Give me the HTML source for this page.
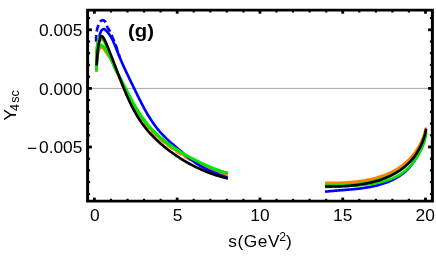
<!DOCTYPE html>
<html><head><meta charset="utf-8"><title>plot</title>
<style>html,body{margin:0;padding:0;background:#fff}svg{display:block;will-change:transform}text{font-family:"Liberation Sans",sans-serif;fill:#000}</style></head><body>
<svg width="436" height="262" viewBox="0 0 436 262">
<rect width="436" height="262" fill="#fff"/>
<line x1="89.1" y1="88.4" x2="430.9" y2="88.4" stroke="#9c9c9c" stroke-width="0.9"/>
<path d="M96.50 72.00 L96.47 70.66 L96.47 69.31 L96.52 67.97 L96.59 66.63 L96.68 65.28 L96.79 63.94 L96.91 62.61 L97.03 61.27 L97.15 59.93 L97.27 58.59 L97.39 57.25 L97.53 55.91 L97.72 54.58 L97.96 53.26 L98.29 51.96 L98.72 50.68 L99.25 49.45 L99.93 48.29 L100.88 47.35 L102.14 47.19 L103.16 48.06 L103.97 49.13 L104.66 50.28 L105.32 51.46 L106.03 52.60 L106.80 53.70 L107.60 54.78 L108.39 55.87 L109.15 56.98 L109.88 58.11 L110.59 59.25 L111.27 60.41 L111.93 61.58 L112.57 62.76 L113.19 63.96 L113.79 65.16 L114.38 66.37 L114.95 67.58 L115.51 68.81 L116.06 70.03 L116.60 71.26 L117.14 72.50 L117.67 73.73 L118.20 74.97 L118.73 76.20 L119.26 77.44 L119.80 78.67 L120.33 79.90 L120.87 81.13 L121.42 82.36 L121.97 83.59 L122.52 84.82 L123.07 86.04 L123.63 87.26 L124.20 88.48 L124.77 89.70 L125.35 90.91 L125.93 92.13 L126.51 93.34 L127.11 94.54 L127.71 95.74 L128.31 96.94" fill="none" stroke="#ff8000" stroke-width="2.65" stroke-linejoin="round"/>
<path d="M128.31 96.94 L128.93 98.14 L129.55 99.33 L130.18 100.52 L130.81 101.71 L131.46 102.89 L132.11 104.06 L132.77 105.23 L133.44 106.40 L134.12 107.56 L134.80 108.71 L135.50 109.86 L136.21 111.01 L136.93 112.14 L137.65 113.27 L138.39 114.40 L139.14 115.51 L139.90 116.62 L140.67 117.72 L141.46 118.82 L142.25 119.90 L143.06 120.98 L143.88 122.04 L144.71 123.10 L145.55 124.15 L146.41 125.18 L147.27 126.21 L148.15 127.23 L149.05 128.23 L149.95 129.23 L150.86 130.21 L151.79 131.19 L152.72 132.15 L153.67 133.11 L154.63 134.05 L155.59 134.99 L156.57 135.91 L157.55 136.83 L158.55 137.73 L159.55 138.63 L160.56 139.51 L161.58 140.39 L162.61 141.26 L163.65 142.11 L164.69 142.96 L165.74 143.80 L166.80 144.63 L167.86 145.45 L168.94 146.26 L170.02 147.06 L171.10 147.85 L172.19 148.64 L173.29 149.41 L174.40 150.18 L175.51 150.93 L176.63 151.68 L177.75 152.42 L178.88 153.15 L180.01 153.87 L181.15 154.59 L182.30 155.29 L183.45 155.99 L184.60 156.67 L185.76 157.35 L186.93 158.02 L188.10 158.68 L189.28 159.33 L190.46 159.97 L191.65 160.60 L192.84 161.22 L194.03 161.84 L195.23 162.44 L196.44 163.04 L197.65 163.63 L198.86 164.21 L200.08 164.77 L201.30 165.34 L202.53 165.89 L203.76 166.43 L204.99 166.96 L206.23 167.49 L207.47 168.00 L208.72 168.51 L209.97 169.01 L211.22 169.49 L212.48 169.97 L213.73 170.44 L215.00 170.90 L216.26 171.35 L217.53 171.80 L218.81 172.23 L220.08 172.65 L221.36 173.07 L222.64 173.47 L223.93 173.87 L225.21 174.26 L226.50 174.63 L227.80 175.00" fill="none" stroke="#ff8000" stroke-width="2.65" stroke-linejoin="round" stroke-dasharray="6.8 3.6"/>
<path d="M96.50 72.00 L96.53 70.57 L96.56 69.14 L96.57 67.70 L96.57 66.27 L96.57 64.84 L96.57 63.41 L96.56 61.97 L96.55 60.54 L96.54 59.11 L96.54 57.68 L96.54 56.24 L96.54 54.81 L96.56 53.38 L96.59 51.95 L96.66 50.52 L96.79 49.09 L97.00 47.67 L97.30 46.27 L97.71 44.90 L98.24 43.57 L98.89 42.30 L99.67 41.09 L100.60 40.01 L101.92 39.56 L103.22 40.11 L104.14 41.20 L104.76 42.49 L105.33 43.80 L105.96 45.09 L106.61 46.37 L107.21 47.67 L107.78 48.98 L108.31 50.31 L108.82 51.65 L109.30 53.00 L109.78 54.35 L110.25 55.70 L110.72 57.06 L111.20 58.41 L111.69 59.75 L112.21 61.09 L112.74 62.42 L113.30 63.74 L113.87 65.05 L114.45 66.36 L115.04 67.67 L115.63 68.97 L116.23 70.27 L116.82 71.57 L117.42 72.88 L118.01 74.18 L118.61 75.48 L119.21 76.78 L119.81 78.08 L120.41 79.38 L121.02 80.68 L121.62 81.98 L122.23 83.28 L122.85 84.57 L123.46 85.86 L124.08 87.15 L124.71 88.44 L125.34 89.73 L125.98 91.01 L126.62 92.29 L127.26 93.57 L127.91 94.85 L128.57 96.12 L129.24 97.39 L129.91 98.65 L130.59 99.91 L131.27 101.17 L131.97 102.42 L132.67 103.67 L133.38 104.92 L134.10 106.15 L134.83 107.39 L135.57 108.61 L136.32 109.84 L137.08 111.05 L137.85 112.26 L138.63 113.46 L139.42 114.66 L140.22 115.84 L141.03 117.02 L141.86 118.19 L142.69 119.35 L143.54 120.51 L144.40 121.65 L145.28 122.79 L146.16 123.92 L147.06 125.03 L147.97 126.14 L148.89 127.23 L149.83 128.32 L150.78 129.39 L151.74 130.45 L152.71 131.50 L153.70 132.54 L154.70 133.56 L155.71 134.58 L156.74 135.58 L157.78 136.56 L158.83 137.53 L159.90 138.49 L160.98 139.43 L162.07 140.36 L163.17 141.28 L164.28 142.18 L165.41 143.06 L166.54 143.94 L167.69 144.80 L168.84 145.64 L170.01 146.48 L171.18 147.30 L172.36 148.11 L173.55 148.91 L174.75 149.70 L175.95 150.47 L177.16 151.24 L178.38 151.99 L179.60 152.74 L180.83 153.48 L182.06 154.20 L183.30 154.92 L184.55 155.63 L185.80 156.33 L187.05 157.03 L188.31 157.71 L189.57 158.39 L190.83 159.07 L192.10 159.73 L193.37 160.39 L194.65 161.05 L195.92 161.69 L197.20 162.34 L198.49 162.98 L199.77 163.61 L201.06 164.24 L202.34 164.87 L203.64 165.49 L204.93 166.10 L206.23 166.71 L207.53 167.30 L208.84 167.89 L210.15 168.46 L211.47 169.02 L212.79 169.57 L214.12 170.10 L215.46 170.61 L216.81 171.10 L218.16 171.58 L219.51 172.04 L220.88 172.47 L222.25 172.89 L223.63 173.28 L225.01 173.64 L226.40 173.98 L227.80 174.30" fill="none" stroke="#ff8000" stroke-width="2.65" stroke-linejoin="round"/>
<path d="M96.16 41.80 L96.14 41.39 L96.13 40.98 L96.12 40.57 L96.11 40.16 L96.10 39.75 L96.10 39.35 L96.10 38.94 L96.10 38.53 L96.10 38.12 L96.11 37.71 L96.12 37.30 L96.14 36.89 L96.15 36.48 L96.17 36.07 L96.20 35.66 L96.23 35.25 L96.26 34.84 L96.29 34.44 L96.33 34.03 L96.37 33.62 L96.42 33.21 L96.47 32.81 L96.53 32.40 L96.59 32.00 L96.66 31.59 L96.73 31.19 L96.80 30.79 L96.88 30.39 L96.97 29.98 L97.06 29.59 L97.15 29.19 L97.25 28.79 L97.36 28.39 L97.47 28.00 L97.59 27.61 L97.71 27.22 L97.84 26.83 L97.97 26.44 L98.11 26.06 L98.25 25.67 L98.40 25.29 L98.56 24.91 L98.72 24.54 L98.89 24.16 L99.06 23.79 L99.24 23.42 L99.43 23.06 L99.62 22.70 L99.81 22.34 L100.02 21.98 L100.24 21.64 L100.49 21.31 L100.77 21.01 L101.08 20.75 L101.43 20.53 L101.81 20.38 L102.20 20.28 L102.61 20.25 L103.02 20.29 L103.42 20.39 L103.80 20.53 L104.16 20.72 L104.50 20.96 L104.81 21.22 L105.09 21.52 L105.34 21.85 L105.56 22.19 L105.76 22.55 L105.93 22.92 L106.07 23.30 L106.20 23.69 L106.32 24.09 L106.43 24.48 L106.54 24.87 L106.66 25.27 L106.79 25.65 L106.93 26.04 L107.09 26.41 L107.26 26.79 L107.45 27.15 L107.64 27.51 L107.84 27.87 L108.05 28.22 L108.26 28.57 L108.48 28.92 L108.69 29.27 L108.91 29.62 L109.13 29.96 L109.35 30.31 L109.56 30.66 L109.77 31.01 L109.97 31.37 L110.16 31.73 L110.35 32.09 L110.53 32.46 L110.71 32.83 L110.88 33.20 L111.05 33.58 L111.21 33.95 L111.36 34.33 L111.52 34.71 L111.67 35.09 L111.82 35.47 L111.97 35.85 L112.12 36.24 L112.26 36.62 L112.41 37.00 L112.56 37.38 L112.71 37.76 L112.87 38.14 L113.02 38.52 L113.18 38.90 L113.34 39.28 L113.50 39.65 L113.66 40.03 L113.82 40.41 L113.98 40.78 L114.14 41.16 L114.30 41.54 L114.46 41.91 L114.62 42.29 L114.77 42.67 L114.92 43.05 L115.07 43.44 L115.22 43.82 L115.36 44.20 L115.51 44.58 L115.65 44.97 L115.79 45.35 L115.93 45.74 L116.06 46.12 L116.20 46.51 L116.34 46.90 L116.47 47.28 L116.60 47.67 L116.73 48.06 L116.87 48.45 L117.00 48.84 L117.13 49.22 L117.25 49.61 L117.38 50.00 L117.51 50.39 L117.64 50.78 L117.76 51.17 L117.89 51.56 L118.02 51.95 L118.15 52.34 L118.27 52.73 L118.40 53.12 L118.53 53.50 L118.66 53.89 L118.78 54.28 L118.91 54.67 L119.04 55.06 L119.17 55.45 L119.30 55.84 L119.44 56.22 L119.57 56.61 L119.70 57.00" fill="none" stroke="#0000ff" stroke-width="2.65" stroke-linejoin="round" stroke-dasharray="6.8 3.6"/>
<path d="M96.65 62.00 L96.87 60.53 L97.02 59.06 L97.10 57.58 L97.14 56.09 L97.15 54.61 L97.16 53.12 L97.18 51.64 L97.22 50.16 L97.32 48.68 L97.47 47.20 L97.69 45.73 L97.96 44.27 L98.26 42.82 L98.57 41.37 L98.87 39.92 L99.15 38.46 L99.40 37.00 L99.65 35.53 L99.96 34.08 L100.41 32.67 L101.04 31.33 L101.88 30.11 L102.97 29.11 L104.38 29.11 L105.53 30.04 L106.58 31.09 L107.57 32.19 L108.51 33.34 L109.39 34.53 L110.22 35.77 L110.99 37.04 L111.72 38.33 L112.40 39.64 L113.05 40.98 L113.68 42.33 L114.28 43.68 L114.85 45.05 L115.41 46.42 L115.96 47.80 L116.50 49.18 L117.04 50.57 L117.57 51.95 L118.11 53.34 L118.66 54.72 L119.21 56.09 L119.78 57.46 L120.35 58.83 L120.93 60.20 L121.51 61.56 L122.11 62.92 L122.71 64.28 L123.31 65.64 L123.92 66.99 L124.54 68.34 L125.16 69.68 L125.79 71.03 L126.42 72.37 L127.06 73.71 L127.69 75.05 L128.34 76.39 L128.98 77.73 L129.62 79.06 L130.27 80.40 L130.92 81.73 L131.57 83.07 L132.22 84.40 L132.87 85.74 L133.52 87.07 L134.17 88.41 L134.81 89.74 L135.46 91.08 L136.11 92.41 L136.76 93.75 L137.41 95.08 L138.07 96.41 L138.72 97.74 L139.38 99.07 L140.05 100.40 L140.72 101.72 L141.39 103.04 L142.07 104.36 L142.76 105.68 L143.45 106.99 L144.16 108.30 L144.87 109.60 L145.59 110.89 L146.32 112.19 L147.06 113.47 L147.81 114.75 L148.58 116.02 L149.35 117.29 L150.14 118.54 L150.95 119.79 L151.76 121.03 L152.59 122.26 L153.44 123.48 L154.30 124.69 L155.18 125.88 L156.08 127.07 L156.99 128.24 L157.92 129.39 L158.87 130.53 L159.83 131.66 L160.82 132.77 L161.82 133.86 L162.84 134.94 L163.87 136.01 L164.92 137.06 L165.98 138.10 L167.06 139.12 L168.14 140.14 L169.23 141.14 L170.33 142.14 L171.44 143.12 L172.55 144.11 L173.67 145.08 L174.79 146.05 L175.92 147.02 L177.05 147.98 L178.18 148.94 L179.31 149.90 L180.44 150.86 L181.58 151.82 L182.71 152.78 L183.84 153.73 L184.98 154.68 L186.13 155.63 L187.27 156.57 L188.43 157.50 L189.59 158.42 L190.76 159.33 L191.95 160.23 L193.14 161.11 L194.34 161.98 L195.56 162.83 L196.79 163.66 L198.03 164.47 L199.29 165.26 L200.56 166.02 L201.85 166.76 L203.15 167.47 L204.46 168.16 L205.79 168.83 L207.12 169.48 L208.47 170.11 L209.82 170.72 L211.18 171.31 L212.55 171.90 L213.92 172.46 L215.29 173.02 L216.67 173.56 L218.06 174.10 L219.45 174.62 L220.83 175.14 L222.23 175.66 L223.62 176.17 L225.01 176.68 L226.41 177.19 L227.80 177.70" fill="none" stroke="#0000ff" stroke-width="2.65" stroke-linejoin="round"/>
<path d="M96.55 70.40 L96.56 69.05 L96.61 67.71 L96.68 66.36 L96.78 65.02 L96.89 63.67 L97.02 62.33 L97.15 60.99 L97.29 59.65 L97.42 58.31 L97.54 56.97 L97.66 55.62 L97.78 54.28 L97.92 52.94 L98.10 51.61 L98.35 50.28 L98.68 48.97 L99.10 47.69 L99.65 46.47 L100.48 45.41 L101.68 44.94 L102.72 45.77 L103.62 46.78 L104.46 47.83 L105.25 48.92 L105.99 50.05 L106.69 51.20 L107.36 52.37 L108.01 53.55 L108.65 54.74 L109.28 55.93 L109.90 57.13 L110.51 58.33 L111.12 59.53 L111.72 60.74 L112.31 61.95 L112.90 63.16 L113.48 64.37 L114.06 65.59 L114.64 66.81 L115.21 68.03 L115.79 69.25 L116.36 70.47 L116.93 71.69 L117.51 72.91 L118.08 74.13 L118.65 75.35 L119.23 76.56 L119.81 77.78 L120.40 78.99 L120.98 80.21 L121.57 81.42 L122.17 82.63 L122.76 83.84 L123.37 85.04 L123.97 86.25 L124.58 87.45 L125.20 88.65 L125.81 89.84 L126.44 91.04 L127.07 92.23 L127.70 93.42 L128.34 94.61 L128.99 95.79 L129.64 96.97 L130.30 98.15 L130.96 99.32 L131.63 100.49 L132.30 101.66 L132.99 102.82 L133.68 103.98 L134.37 105.13 L135.08 106.28 L135.79 107.42 L136.51 108.56 L137.23 109.70 L137.97 110.83 L138.71 111.95 L139.46 113.07 L140.22 114.19 L140.99 115.29 L141.76 116.39 L142.55 117.49 L143.34 118.58 L144.15 119.66 L144.96 120.74 L145.78 121.80 L146.61 122.86 L147.46 123.91 L148.31 124.96 L149.17 125.99 L150.04 127.02 L150.93 128.04 L151.82 129.05 L152.72 130.05 L153.64 131.04 L154.56 132.02 L155.50 132.99 L156.44 133.95 L157.40 134.90 L158.37 135.83 L159.35 136.76 L160.34 137.67 L161.34 138.58 L162.36 139.46 L163.38 140.34 L164.41 141.20 L165.46 142.06 L166.52 142.89 L167.58 143.71 L168.66 144.52 L169.75 145.32 L170.85 146.10 L171.96 146.86 L173.08 147.62 L174.20 148.36 L175.34 149.08 L176.48 149.80 L177.63 150.50 L178.78 151.19 L179.95 151.88 L181.11 152.55 L182.29 153.21 L183.46 153.87 L184.65 154.52 L185.83 155.16 L187.02 155.79 L188.21 156.42 L189.41 157.04 L190.61 157.66 L191.81 158.27 L193.01 158.88 L194.22 159.48 L195.42 160.08 L196.63 160.68 L197.84 161.28 L199.05 161.88 L200.25 162.47 L201.46 163.07 L202.67 163.66 L203.88 164.26 L205.10 164.84 L206.31 165.43 L207.53 166.00 L208.75 166.57 L209.98 167.13 L211.21 167.68 L212.45 168.21 L213.69 168.74 L214.94 169.24 L216.19 169.73 L217.45 170.20 L218.72 170.66 L220.00 171.09 L221.28 171.50 L222.57 171.89 L223.87 172.25 L225.18 172.59 L226.49 172.91 L227.80 173.20" fill="none" stroke="#00e600" stroke-width="2.65" stroke-linejoin="round"/>
<path d="M96.55 70.40 L96.54 68.95 L96.54 67.51 L96.55 66.06 L96.57 64.62 L96.59 63.17 L96.62 61.73 L96.65 60.28 L96.69 58.84 L96.72 57.39 L96.75 55.95 L96.77 54.50 L96.79 53.06 L96.81 51.61 L96.82 50.16 L96.85 48.72 L96.91 47.27 L97.02 45.83 L97.22 44.40 L97.51 42.99 L97.91 41.60 L98.40 40.24 L98.89 38.88 L99.40 37.53 L100.65 36.97 L102.00 37.43 L102.97 38.49 L103.64 39.77 L104.24 41.08 L104.84 42.40 L105.44 43.72 L106.03 45.04 L106.61 46.36 L107.18 47.69 L107.73 49.03 L108.26 50.37 L108.78 51.72 L109.27 53.08 L109.75 54.44 L110.22 55.81 L110.69 57.18 L111.16 58.54 L111.62 59.91 L112.10 61.28 L112.59 62.64 L113.09 63.99 L113.62 65.34 L114.16 66.68 L114.74 68.00 L115.35 69.31 L116.00 70.60 L116.69 71.88 L117.40 73.13 L118.13 74.39 L118.86 75.63 L119.58 76.88 L120.29 78.14 L121.00 79.40 L121.69 80.67 L122.38 81.94 L123.06 83.22 L123.74 84.50 L124.41 85.78 L125.07 87.06 L125.74 88.34 L126.40 89.63 L127.06 90.92 L127.71 92.20 L128.37 93.49 L129.03 94.78 L129.69 96.06 L130.36 97.35 L131.02 98.63 L131.69 99.91 L132.37 101.19 L133.05 102.47 L133.73 103.74 L134.43 105.01 L135.13 106.27 L135.84 107.53 L136.56 108.78 L137.30 110.03 L138.04 111.27 L138.79 112.50 L139.56 113.73 L140.34 114.94 L141.14 116.15 L141.95 117.35 L142.77 118.53 L143.61 119.71 L144.47 120.87 L145.35 122.02 L146.25 123.15 L147.16 124.27 L148.10 125.38 L149.05 126.46 L150.02 127.53 L151.01 128.59 L152.01 129.63 L153.03 130.66 L154.06 131.67 L155.11 132.66 L156.17 133.65 L157.24 134.61 L158.33 135.57 L159.42 136.51 L160.53 137.44 L161.65 138.36 L162.77 139.27 L163.91 140.16 L165.05 141.05 L166.20 141.92 L167.36 142.79 L168.53 143.64 L169.70 144.49 L170.87 145.33 L172.06 146.16 L173.24 146.99 L174.44 147.80 L175.64 148.61 L176.84 149.41 L178.05 150.20 L179.27 150.98 L180.49 151.75 L181.72 152.52 L182.95 153.27 L184.19 154.02 L185.43 154.76 L186.68 155.49 L187.93 156.20 L189.19 156.91 L190.46 157.62 L191.73 158.31 L193.00 158.99 L194.28 159.66 L195.57 160.32 L196.86 160.97 L198.15 161.62 L199.45 162.25 L200.76 162.87 L202.07 163.48 L203.38 164.08 L204.70 164.67 L206.03 165.25 L207.35 165.82 L208.69 166.38 L210.03 166.93 L211.37 167.46 L212.71 167.99 L214.07 168.50 L215.42 169.00 L216.78 169.50 L218.14 169.98 L219.51 170.44 L220.88 170.90 L222.26 171.34 L223.64 171.78 L225.02 172.20 L226.41 172.60 L227.80 173.00" fill="none" stroke="#00e600" stroke-width="2.65" stroke-linejoin="round"/>
<path d="M96.55 65.50 L96.67 64.05 L96.78 62.60 L96.88 61.15 L96.98 59.70 L97.08 58.25 L97.18 56.80 L97.29 55.35 L97.41 53.90 L97.54 52.45 L97.70 51.01 L97.87 49.56 L98.07 48.12 L98.29 46.69 L98.55 45.26 L98.84 43.83 L99.17 42.42 L99.51 41.00 L99.83 39.58 L100.10 38.16 L100.53 36.78 L101.68 36.05 L102.82 36.92 L103.66 38.11 L104.34 39.39 L104.98 40.70 L105.60 42.01 L106.20 43.34 L106.78 44.67 L107.34 46.01 L107.90 47.35 L108.44 48.70 L108.98 50.05 L109.52 51.40 L110.05 52.75 L110.58 54.11 L111.11 55.46 L111.63 56.82 L112.16 58.17 L112.68 59.53 L113.20 60.89 L113.72 62.24 L114.24 63.60 L114.76 64.96 L115.28 66.32 L115.80 67.68 L116.31 69.03 L116.83 70.39 L117.35 71.75 L117.87 73.11 L118.39 74.47 L118.91 75.82 L119.43 77.18 L119.95 78.54 L120.48 79.89 L121.00 81.25 L121.53 82.60 L122.06 83.95 L122.60 85.31 L123.14 86.66 L123.68 88.00 L124.23 89.35 L124.78 90.69 L125.34 92.04 L125.91 93.37 L126.48 94.71 L127.06 96.04 L127.65 97.37 L128.25 98.70 L128.85 100.02 L129.46 101.34 L130.09 102.65 L130.72 103.96 L131.36 105.27 L132.01 106.57 L132.68 107.86 L133.35 109.15 L134.04 110.43 L134.74 111.70 L135.45 112.97 L136.18 114.23 L136.92 115.48 L137.67 116.72 L138.44 117.96 L139.22 119.18 L140.02 120.40 L140.83 121.60 L141.66 122.79 L142.51 123.98 L143.37 125.15 L144.25 126.31 L145.14 127.45 L146.05 128.59 L146.98 129.71 L147.92 130.82 L148.87 131.92 L149.83 133.00 L150.81 134.08 L151.81 135.14 L152.81 136.19 L153.83 137.23 L154.86 138.25 L155.90 139.27 L156.95 140.27 L158.02 141.26 L159.09 142.24 L160.17 143.21 L161.27 144.17 L162.37 145.12 L163.48 146.05 L164.60 146.98 L165.74 147.89 L166.87 148.79 L168.02 149.69 L169.18 150.57 L170.34 151.44 L171.51 152.30 L172.69 153.16 L173.87 154.00 L175.06 154.83 L176.26 155.65 L177.47 156.46 L178.68 157.26 L179.90 158.05 L181.13 158.83 L182.36 159.60 L183.61 160.36 L184.85 161.10 L186.11 161.84 L187.37 162.56 L188.64 163.27 L189.91 163.97 L191.19 164.66 L192.48 165.34 L193.77 166.01 L195.07 166.66 L196.37 167.30 L197.68 167.93 L199.00 168.55 L200.32 169.16 L201.64 169.75 L202.98 170.33 L204.32 170.90 L205.66 171.45 L207.01 172.00 L208.36 172.53 L209.72 173.04 L211.08 173.54 L212.45 174.03 L213.83 174.51 L215.20 174.97 L216.59 175.42 L217.97 175.86 L219.37 176.28 L220.76 176.68 L222.16 177.08 L223.57 177.45 L224.97 177.82 L226.38 178.17 L227.80 178.50" fill="none" stroke="#000" stroke-width="2.65" stroke-linejoin="round"/>
<path d="M325.03 191.73 L325.84 191.64 L326.65 191.54 L327.47 191.45 L328.29 191.36 L329.10 191.28 L329.92 191.19 L330.73 191.11 L331.55 191.03 L332.37 190.96 L333.18 190.88 L334.00 190.81 L334.82 190.74 L335.63 190.67 L336.45 190.60 L337.27 190.53 L338.09 190.47 L338.90 190.40 L339.72 190.33 L340.54 190.27 L341.36 190.20 L342.18 190.14 L342.99 190.08 L343.81 190.01 L344.63 189.95 L345.45 189.88 L346.26 189.81 L347.08 189.75 L347.90 189.68 L348.72 189.61 L349.53 189.54 L350.35 189.47 L351.17 189.40 L351.98 189.32 L352.80 189.25 L353.62 189.17 L354.43 189.09 L355.25 189.01 L356.07 188.92 L356.88 188.83 L357.70 188.74 L358.51 188.65 L359.33 188.56 L360.14 188.46 L360.95 188.36 L361.77 188.25 L362.58 188.14 L363.39 188.03 L364.21 187.91 L365.02 187.79 L365.83 187.67 L366.64 187.54 L367.45 187.41 L368.26 187.27 L369.06 187.13 L369.87 186.98 L370.68 186.83 L371.48 186.67 L372.29 186.51 L373.09 186.34 L373.89 186.17 L374.69 185.99 L375.49 185.80 L376.29 185.61 L377.08 185.41 L377.88 185.21 L378.67 185.00 L379.46 184.78 L380.25 184.56 L381.04 184.33 L381.82 184.09 L382.61 183.84 L383.39 183.59 L384.16 183.33 L384.94 183.06 L385.71 182.78 L386.48 182.50 L387.25 182.21 L388.01 181.91 L388.77 181.60 L389.53 181.28 L390.28 180.96 L391.03 180.62 L391.77 180.28 L392.52 179.93 L393.25 179.57 L393.98 179.20 L394.71 178.82 L395.43 178.43 L396.15 178.03 L396.86 177.63 L397.57 177.21 L398.27 176.78 L398.96 176.34 L399.65 175.90 L400.33 175.44 L401.01 174.97 L401.67 174.49 L402.33 174.01 L402.98 173.51 L403.63 173.00 L404.26 172.48 L404.89 171.95 L405.50 171.41 L406.11 170.86 L406.71 170.29 L407.29 169.72 L407.87 169.14 L408.44 168.54 L408.99 167.94 L409.53 167.32 L410.07 166.70 L410.59 166.07 L411.09 165.42 L411.59 164.77 L412.07 164.10 L412.54 163.43 L413.00 162.75 L413.45 162.07 L413.89 161.38 L414.32 160.68 L414.74 159.97 L415.15 159.26 L415.55 158.54 L415.94 157.82 L416.32 157.10 L416.70 156.37 L417.06 155.63 L417.42 154.90 L417.77 154.16 L418.12 153.41 L418.46 152.66 L418.79 151.91 L419.11 151.16 L419.43 150.40 L419.75 149.65 L420.06 148.89 L420.36 148.13 L420.66 147.36 L420.96 146.60 L421.25 145.83 L421.54 145.06 L421.82 144.29 L422.10 143.52 L422.38 142.75 L422.66 141.98 L422.93 141.21 L423.20 140.43 L423.48 139.66 L423.74 138.88 L424.01 138.11 L424.27 137.33 L424.53 136.55 L424.78 135.77 L425.02 134.98 L425.24 134.20 L425.46 133.40 L425.66 132.61 L425.84 131.81 L426.01 131.01" fill="none" stroke="#0000ff" stroke-width="2.65" stroke-linejoin="round"/>
<path d="M325.26 187.08 L326.06 187.00 L326.86 186.93 L327.66 186.87 L328.46 186.81 L329.26 186.75 L330.06 186.69 L330.86 186.64 L331.66 186.59 L332.46 186.54 L333.26 186.49 L334.06 186.45 L334.86 186.41 L335.66 186.37 L336.46 186.33 L337.26 186.29 L338.06 186.25 L338.86 186.22 L339.67 186.18 L340.47 186.15 L341.27 186.11 L342.07 186.08 L342.87 186.05 L343.67 186.01 L344.47 185.98 L345.27 185.95 L346.07 185.91 L346.87 185.88 L347.68 185.85 L348.48 185.81 L349.28 185.77 L350.08 185.74 L350.88 185.70 L351.68 185.66 L352.48 185.62 L353.28 185.58 L354.08 185.53 L354.88 185.48 L355.68 185.44 L356.48 185.39 L357.28 185.33 L358.08 185.28 L358.88 185.22 L359.68 185.16 L360.48 185.10 L361.28 185.04 L362.08 184.97 L362.88 184.90 L363.68 184.82 L364.47 184.74 L365.27 184.66 L366.07 184.58 L366.87 184.49 L367.66 184.39 L368.46 184.30 L369.25 184.19 L370.05 184.09 L370.84 183.98 L371.64 183.86 L372.43 183.74 L373.22 183.62 L374.01 183.48 L374.80 183.35 L375.59 183.21 L376.38 183.06 L377.17 182.91 L377.95 182.75 L378.74 182.58 L379.52 182.41 L380.30 182.23 L381.08 182.04 L381.86 181.85 L382.64 181.65 L383.41 181.44 L384.18 181.23 L384.95 181.01 L385.72 180.78 L386.49 180.54 L387.25 180.29 L388.01 180.04 L388.77 179.77 L389.52 179.50 L390.27 179.22 L391.02 178.93 L391.76 178.63 L392.50 178.32 L393.24 178.00 L393.97 177.67 L394.70 177.33 L395.42 176.99 L396.14 176.63 L396.85 176.26 L397.55 175.88 L398.25 175.49 L398.95 175.09 L399.64 174.68 L400.32 174.26 L401.00 173.83 L401.66 173.38 L402.32 172.93 L402.98 172.46 L403.62 171.99 L404.26 171.50 L404.89 171.01 L405.51 170.50 L406.13 169.98 L406.73 169.46 L407.33 168.92 L407.91 168.38 L408.49 167.82 L409.06 167.26 L409.63 166.69 L410.18 166.11 L410.73 165.52 L411.26 164.92 L411.79 164.32 L412.31 163.71 L412.82 163.09 L413.33 162.47 L413.82 161.84 L414.31 161.20 L414.79 160.56 L415.26 159.91 L415.72 159.25 L416.17 158.59 L416.62 157.92 L417.05 157.25 L417.48 156.57 L417.90 155.89 L418.31 155.20 L418.71 154.51 L419.10 153.81 L419.49 153.10 L419.86 152.40 L420.23 151.68 L420.59 150.97 L420.94 150.24 L421.28 149.52 L421.61 148.79 L421.93 148.06 L422.25 147.32 L422.55 146.58 L422.85 145.83 L423.14 145.08 L423.42 144.33 L423.68 143.57 L423.94 142.82 L424.19 142.05 L424.43 141.29 L424.66 140.52 L424.88 139.75 L425.09 138.98 L425.29 138.20 L425.48 137.42 L425.66 136.64 L425.83 135.86 L425.99 135.07 L426.14 134.28 L426.28 133.49 L426.40 132.70" fill="none" stroke="#00e600" stroke-width="2.65" stroke-linejoin="round"/>
<path d="M325.05 184.70 L325.84 184.72 L326.64 184.73 L327.43 184.75 L328.22 184.76 L329.01 184.77 L329.81 184.77 L330.60 184.78 L331.39 184.78 L332.18 184.78 L332.98 184.78 L333.77 184.78 L334.56 184.77 L335.35 184.77 L336.15 184.75 L336.94 184.74 L337.73 184.73 L338.52 184.71 L339.31 184.69 L340.11 184.66 L340.90 184.64 L341.69 184.61 L342.48 184.58 L343.27 184.54 L344.07 184.51 L344.86 184.47 L345.65 184.42 L346.44 184.38 L347.23 184.33 L348.02 184.27 L348.81 184.22 L349.60 184.16 L350.39 184.10 L351.18 184.03 L351.97 183.96 L352.76 183.89 L353.55 183.81 L354.34 183.73 L355.13 183.65 L355.91 183.56 L356.70 183.47 L357.49 183.37 L358.27 183.27 L359.06 183.17 L359.85 183.06 L360.63 182.95 L361.41 182.83 L362.20 182.71 L362.98 182.58 L363.76 182.45 L364.54 182.32 L365.32 182.18 L366.10 182.04 L366.88 181.89 L367.66 181.74 L368.43 181.58 L369.21 181.41 L369.98 181.25 L370.76 181.07 L371.53 180.89 L372.30 180.71 L373.07 180.52 L373.84 180.32 L374.61 180.12 L375.37 179.92 L376.13 179.70 L376.90 179.49 L377.66 179.26 L378.41 179.03 L379.17 178.79 L379.93 178.55 L380.68 178.30 L381.43 178.05 L382.18 177.79 L382.92 177.52 L383.66 177.24 L384.41 176.96 L385.14 176.67 L385.88 176.38 L386.61 176.07 L387.34 175.76 L388.07 175.45 L388.79 175.12 L389.51 174.79 L390.23 174.45 L390.94 174.10 L391.65 173.75 L392.35 173.39 L393.05 173.02 L393.75 172.64 L394.44 172.26 L395.13 171.86 L395.82 171.46 L396.50 171.05 L397.17 170.64 L397.84 170.21 L398.50 169.78 L399.16 169.34 L399.81 168.89 L400.46 168.43 L401.10 167.97 L401.74 167.49 L402.37 167.01 L402.99 166.52 L403.61 166.02 L404.21 165.52 L404.82 165.00 L405.41 164.48 L406.00 163.95 L406.58 163.41 L407.16 162.86 L407.73 162.31 L408.29 161.75 L408.84 161.18 L409.38 160.61 L409.92 160.03 L410.45 159.44 L410.98 158.84 L411.49 158.24 L412.00 157.63 L412.51 157.02 L413.00 156.40 L413.49 155.78 L413.97 155.14 L414.44 154.51 L414.90 153.87 L415.36 153.22 L415.81 152.56 L416.25 151.91 L416.68 151.24 L417.11 150.58 L417.53 149.90 L417.94 149.22 L418.34 148.54 L418.74 147.86 L419.12 147.16 L419.50 146.47 L419.88 145.77 L420.24 145.06 L420.60 144.36 L420.94 143.64 L421.29 142.93 L421.62 142.21 L421.94 141.49 L422.26 140.76 L422.57 140.03 L422.86 139.30 L423.16 138.56 L423.44 137.82 L423.71 137.07 L423.98 136.33 L424.24 135.58 L424.49 134.83 L424.73 134.07 L424.96 133.31 L425.19 132.55 L425.40 131.79 L425.61 131.03 L425.80 130.26 L425.99 129.49" fill="none" stroke="#00e600" stroke-width="2.65" stroke-linejoin="round"/>
<path d="M325.07 182.93 L325.86 182.93 L326.66 182.93 L327.45 182.93 L328.24 182.93 L329.04 182.93 L329.83 182.93 L330.62 182.92 L331.42 182.92 L332.21 182.91 L333.01 182.90 L333.80 182.89 L334.59 182.87 L335.39 182.86 L336.18 182.84 L336.98 182.82 L337.77 182.80 L338.56 182.77 L339.36 182.75 L340.15 182.72 L340.94 182.69 L341.74 182.65 L342.53 182.62 L343.32 182.58 L344.12 182.54 L344.91 182.50 L345.70 182.45 L346.49 182.40 L347.29 182.35 L348.08 182.29 L348.87 182.23 L349.66 182.17 L350.45 182.11 L351.24 182.04 L352.03 181.97 L352.83 181.90 L353.62 181.82 L354.41 181.74 L355.19 181.65 L355.98 181.57 L356.77 181.47 L357.56 181.38 L358.35 181.28 L359.14 181.18 L359.92 181.07 L360.71 180.96 L361.49 180.84 L362.28 180.72 L363.06 180.60 L363.85 180.47 L364.63 180.34 L365.41 180.20 L366.19 180.06 L366.97 179.91 L367.75 179.76 L368.53 179.60 L369.31 179.44 L370.08 179.28 L370.86 179.11 L371.63 178.93 L372.41 178.75 L373.18 178.56 L373.95 178.37 L374.72 178.17 L375.48 177.97 L376.25 177.76 L377.01 177.54 L377.78 177.32 L378.54 177.09 L379.30 176.86 L380.05 176.62 L380.81 176.37 L381.56 176.12 L382.31 175.86 L383.06 175.60 L383.81 175.32 L384.55 175.04 L385.29 174.76 L386.03 174.47 L386.76 174.17 L387.50 173.86 L388.22 173.54 L388.95 173.22 L389.67 172.89 L390.39 172.56 L391.11 172.21 L391.82 171.86 L392.53 171.50 L393.23 171.13 L393.93 170.76 L394.63 170.37 L395.32 169.98 L396.00 169.58 L396.68 169.18 L397.36 168.76 L398.03 168.34 L398.70 167.91 L399.36 167.46 L400.01 167.02 L400.66 166.56 L401.31 166.09 L401.94 165.62 L402.58 165.14 L403.20 164.65 L403.82 164.15 L404.43 163.64 L405.03 163.13 L405.63 162.61 L406.22 162.08 L406.81 161.54 L407.39 161.00 L407.96 160.44 L408.52 159.88 L409.08 159.32 L409.63 158.74 L410.17 158.16 L410.70 157.58 L411.23 156.98 L411.75 156.38 L412.26 155.78 L412.77 155.16 L413.26 154.55 L413.75 153.92 L414.24 153.29 L414.71 152.65 L415.18 152.01 L415.63 151.36 L416.09 150.71 L416.53 150.05 L416.96 149.39 L417.39 148.72 L417.81 148.04 L418.22 147.36 L418.62 146.68 L419.01 145.99 L419.40 145.29 L419.78 144.59 L420.15 143.89 L420.51 143.18 L420.86 142.47 L421.20 141.76 L421.53 141.04 L421.86 140.31 L422.18 139.58 L422.48 138.85 L422.78 138.12 L423.07 137.38 L423.35 136.63 L423.63 135.89 L423.89 135.14 L424.14 134.39 L424.38 133.63 L424.62 132.87 L424.84 132.11 L425.06 131.35 L425.27 130.58 L425.46 129.81 L425.65 129.04 L425.83 128.26 L425.99 127.49" fill="none" stroke="#ff8000" stroke-width="2.65" stroke-linejoin="round"/>
<path d="M325.07 186.50 L325.88 186.51 L326.69 186.52 L327.49 186.53 L328.30 186.54 L329.11 186.55 L329.91 186.55 L330.72 186.55 L331.53 186.55 L332.33 186.54 L333.14 186.54 L333.95 186.53 L334.75 186.52 L335.56 186.50 L336.37 186.49 L337.17 186.47 L337.98 186.44 L338.79 186.42 L339.59 186.39 L340.40 186.36 L341.20 186.33 L342.01 186.29 L342.82 186.25 L343.62 186.21 L344.43 186.16 L345.23 186.11 L346.04 186.06 L346.84 186.00 L347.65 185.94 L348.45 185.88 L349.26 185.82 L350.06 185.75 L350.86 185.68 L351.67 185.60 L352.47 185.52 L353.27 185.44 L354.07 185.35 L354.87 185.26 L355.67 185.16 L356.48 185.06 L357.28 184.96 L358.08 184.85 L358.87 184.74 L359.67 184.63 L360.47 184.51 L361.27 184.38 L362.06 184.26 L362.86 184.12 L363.65 183.99 L364.45 183.85 L365.24 183.70 L366.03 183.55 L366.83 183.39 L367.62 183.23 L368.41 183.07 L369.19 182.89 L369.98 182.72 L370.77 182.54 L371.55 182.35 L372.34 182.16 L373.12 181.96 L373.90 181.76 L374.68 181.55 L375.46 181.34 L376.23 181.12 L377.01 180.89 L377.78 180.66 L378.55 180.43 L379.32 180.18 L380.09 179.93 L380.85 179.68 L381.62 179.41 L382.38 179.15 L383.13 178.87 L383.89 178.59 L384.64 178.30 L385.39 178.00 L386.14 177.70 L386.89 177.39 L387.63 177.08 L388.37 176.75 L389.10 176.42 L389.84 176.08 L390.57 175.74 L391.29 175.39 L392.01 175.03 L392.73 174.66 L393.44 174.28 L394.15 173.90 L394.86 173.51 L395.56 173.11 L396.26 172.70 L396.95 172.29 L397.64 171.86 L398.32 171.43 L398.99 170.99 L399.66 170.54 L400.33 170.09 L400.99 169.62 L401.64 169.15 L402.29 168.67 L402.93 168.18 L403.57 167.68 L404.19 167.18 L404.82 166.66 L405.43 166.14 L406.04 165.61 L406.64 165.07 L407.23 164.52 L407.82 163.97 L408.39 163.40 L408.96 162.83 L409.52 162.25 L410.08 161.67 L410.62 161.07 L411.16 160.47 L411.69 159.86 L412.21 159.25 L412.73 158.63 L413.23 158.00 L413.73 157.36 L414.22 156.72 L414.70 156.07 L415.17 155.42 L415.64 154.76 L416.09 154.09 L416.54 153.42 L416.98 152.74 L417.41 152.06 L417.83 151.37 L418.24 150.68 L418.64 149.98 L419.04 149.28 L419.42 148.57 L419.80 147.85 L420.17 147.14 L420.52 146.41 L420.87 145.69 L421.21 144.95 L421.54 144.22 L421.86 143.48 L422.17 142.73 L422.48 141.98 L422.77 141.23 L423.05 140.48 L423.32 139.72 L423.59 138.96 L423.84 138.19 L424.08 137.42 L424.32 136.65 L424.54 135.87 L424.75 135.10 L424.96 134.32 L425.15 133.53 L425.34 132.75 L425.51 131.96 L425.67 131.17 L425.82 130.38 L425.97 129.58 L426.10 128.79" fill="none" stroke="#000" stroke-width="2.65" stroke-linejoin="round"/>
<g fill="#000"><rect x="93.00" y="197.60" width="2.80" height="2.70"/><rect x="93.00" y="11.00" width="2.80" height="2.70"/><rect x="109.86" y="198.80" width="2.20" height="1.50"/><rect x="109.86" y="11.00" width="2.20" height="1.50"/><rect x="126.41" y="198.80" width="2.20" height="1.50"/><rect x="126.41" y="11.00" width="2.20" height="1.50"/><rect x="142.97" y="198.80" width="2.20" height="1.50"/><rect x="142.97" y="11.00" width="2.20" height="1.50"/><rect x="159.52" y="198.80" width="2.20" height="1.50"/><rect x="159.52" y="11.00" width="2.20" height="1.50"/><rect x="175.78" y="197.60" width="2.80" height="2.70"/><rect x="175.78" y="11.00" width="2.80" height="2.70"/><rect x="192.63" y="198.80" width="2.20" height="1.50"/><rect x="192.63" y="11.00" width="2.20" height="1.50"/><rect x="209.19" y="198.80" width="2.20" height="1.50"/><rect x="209.19" y="11.00" width="2.20" height="1.50"/><rect x="225.74" y="198.80" width="2.20" height="1.50"/><rect x="225.74" y="11.00" width="2.20" height="1.50"/><rect x="242.30" y="198.80" width="2.20" height="1.50"/><rect x="242.30" y="11.00" width="2.20" height="1.50"/><rect x="258.55" y="197.60" width="2.80" height="2.70"/><rect x="258.55" y="11.00" width="2.80" height="2.70"/><rect x="275.40" y="198.80" width="2.20" height="1.50"/><rect x="275.40" y="11.00" width="2.20" height="1.50"/><rect x="291.96" y="198.80" width="2.20" height="1.50"/><rect x="291.96" y="11.00" width="2.20" height="1.50"/><rect x="308.51" y="198.80" width="2.20" height="1.50"/><rect x="308.51" y="11.00" width="2.20" height="1.50"/><rect x="325.07" y="198.80" width="2.20" height="1.50"/><rect x="325.07" y="11.00" width="2.20" height="1.50"/><rect x="341.33" y="197.60" width="2.80" height="2.70"/><rect x="341.33" y="11.00" width="2.80" height="2.70"/><rect x="358.18" y="198.80" width="2.20" height="1.50"/><rect x="358.18" y="11.00" width="2.20" height="1.50"/><rect x="374.74" y="198.80" width="2.20" height="1.50"/><rect x="374.74" y="11.00" width="2.20" height="1.50"/><rect x="391.29" y="198.80" width="2.20" height="1.50"/><rect x="391.29" y="11.00" width="2.20" height="1.50"/><rect x="407.85" y="198.80" width="2.20" height="1.50"/><rect x="407.85" y="11.00" width="2.20" height="1.50"/><rect x="424.10" y="197.60" width="2.80" height="2.70"/><rect x="424.10" y="11.00" width="2.80" height="2.70"/><rect x="88.60" y="192.78" width="1.50" height="2.20"/><rect x="429.90" y="192.78" width="1.50" height="2.20"/><rect x="88.60" y="181.06" width="1.50" height="2.20"/><rect x="429.90" y="181.06" width="1.50" height="2.20"/><rect x="88.60" y="169.34" width="1.50" height="2.20"/><rect x="429.90" y="169.34" width="1.50" height="2.20"/><rect x="88.60" y="157.62" width="1.50" height="2.20"/><rect x="429.90" y="157.62" width="1.50" height="2.20"/><rect x="88.60" y="145.60" width="3.30" height="2.80"/><rect x="428.10" y="145.60" width="3.30" height="2.80"/><rect x="88.60" y="134.18" width="1.50" height="2.20"/><rect x="429.90" y="134.18" width="1.50" height="2.20"/><rect x="88.60" y="122.46" width="1.50" height="2.20"/><rect x="429.90" y="122.46" width="1.50" height="2.20"/><rect x="88.60" y="110.74" width="1.50" height="2.20"/><rect x="429.90" y="110.74" width="1.50" height="2.20"/><rect x="88.60" y="99.02" width="1.50" height="2.20"/><rect x="429.90" y="99.02" width="1.50" height="2.20"/><rect x="88.60" y="87.00" width="3.30" height="2.80"/><rect x="428.10" y="87.00" width="3.30" height="2.80"/><rect x="88.60" y="75.58" width="1.50" height="2.20"/><rect x="429.90" y="75.58" width="1.50" height="2.20"/><rect x="88.60" y="63.86" width="1.50" height="2.20"/><rect x="429.90" y="63.86" width="1.50" height="2.20"/><rect x="88.60" y="52.14" width="1.50" height="2.20"/><rect x="429.90" y="52.14" width="1.50" height="2.20"/><rect x="88.60" y="40.42" width="1.50" height="2.20"/><rect x="429.90" y="40.42" width="1.50" height="2.20"/><rect x="88.60" y="28.40" width="3.30" height="2.80"/><rect x="428.10" y="28.40" width="3.30" height="2.80"/><rect x="88.60" y="16.98" width="1.50" height="2.20"/><rect x="429.90" y="16.98" width="1.50" height="2.20"/></g>
<path fill="#000" fill-rule="evenodd" d="M86.1 8.8H433.9V202.5H86.1Z M89.1 11.5V199.8H430.9V11.5Z"/>
<text transform="translate(82.40,35.90) scale(1.02,1)" font-size="17.0" text-anchor="end">0.005</text>
<text transform="translate(82.40,94.50) scale(1.02,1)" font-size="17.0" text-anchor="end">0.000</text>
<text transform="translate(82.40,153.10) scale(1.02,1)" font-size="17.0" text-anchor="end"><tspan dy="1.2">−</tspan><tspan dy="-1.2" dx="1.85">0.005</tspan></text>
<text transform="translate(94.80,220.80) scale(1.02,1)" font-size="17.0" text-anchor="middle">0</text>
<text transform="translate(177.58,220.80) scale(1.02,1)" font-size="17.0" text-anchor="middle">5</text>
<text transform="translate(259.95,220.80) scale(1.02,1)" font-size="17.0" text-anchor="middle">10</text>
<text transform="translate(342.73,220.80) scale(1.02,1)" font-size="17.0" text-anchor="middle">15</text>
<text transform="translate(425.20,220.80) scale(1.02,1)" font-size="17.0" text-anchor="middle">20</text>
<text transform="translate(228.30,247.30) scale(1.02,1)" font-size="17.0" text-anchor="start" letter-spacing="0.5">s(GeV<tspan font-size="12" dy="-6.6" dx="-0.7">2</tspan><tspan dy="6.6" dx="-0.5">)</tspan></text>
<text transform="translate(128.10,36.70) scale(1.13,1)" font-size="18.0" text-anchor="start" font-weight="bold">(g)</text>
<g transform="translate(16.2,0) rotate(-90)"><text transform="translate(-120.4,0) scale(1,1.02)" font-size="17.0">Y</text><text transform="translate(-111.1,2.8) scale(1,1.02)" font-size="12.5">4</text><text transform="translate(-102.7,2.8) scale(1,1.02)" font-size="12.5">sc</text></g>
</svg></body></html>
